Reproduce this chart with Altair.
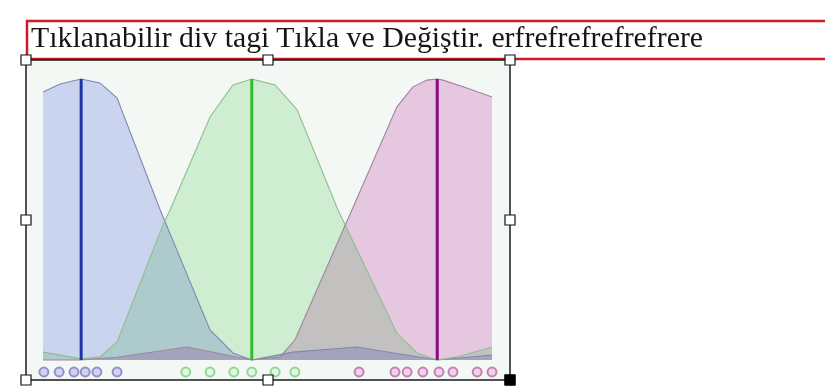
import altair as alt
import pandas as pd

# ---- data (x: feature value 0-100, y: relative density 0-1) ----
blue_x = [0, 3.8, 8.5, 12.7, 16.5, 26.1, 37.2, 42.3, 46.5, 55.7, 69.9, 87.8, 100]
blue_y = [0.954, 0.982, 1.0, 0.986, 0.932, 0.534, 0.107, 0.025, 0.0, 0.028, 0.046, 0.0, 0.018]

green_x = [0, 8.5, 12.7, 16.5, 26.7, 28.3, 37.2, 42.3, 46.5, 51.7, 56.6, 65.7, 78.8, 83.3, 87.8, 92.2, 100]
green_y = [0.028, 0.004, 0.011, 0.064, 0.48, 0.534, 0.865, 0.979, 1.0, 0.979, 0.89, 0.534, 0.096, 0.025, 0.0, 0.011, 0.046]

mag_x = [0, 8.5, 16.5, 32.1, 46.5, 52.8, 56.1, 68.8, 78.8, 82.4, 85.5, 87.8, 89.1, 94.4, 100]
mag_y = [0.0, 0.0, 0.01, 0.046, 0.0, 0.011, 0.071, 0.534, 0.9, 0.972, 0.996, 1.0, 0.996, 0.968, 0.936]

centers = {"A": 8.5, "B": 46.5, "C": 87.8}

blue_pts = [0.2, 3.6, 6.9, 9.4, 12.0, 16.5]
green_pts = [31.8, 37.2, 42.5, 46.5, 51.7, 56.1]
mag_pts = [70.4, 78.4, 81.1, 84.6, 88.2, 91.3, 96.7, 100]

title_text = "Tıklanabilir div tagi Tıkla ve Değiştir. erfrefrefrefrefrere"

# ---- styles ----
styles = {
    "A": dict(fill="#d4daf9", line="#8088b0", rule="#2233aa", pstroke="#8f8fcc", pfill="#d2d2f0"),
    "B": dict(fill="#d9f5db", line="#8fbd8f", rule="#2fbb2f", pstroke="#8fd88f", pfill="#e6f6e6"),
    "C": dict(fill="#f0ceeb", line="#a084a0", rule="#8c0a7c", pstroke="#c47fb4", pfill="#efd3e9"),
}
series = {"A": (blue_x, blue_y, blue_pts), "B": (green_x, green_y, green_pts), "C": (mag_x, mag_y, mag_pts)}

xs = alt.Scale(domain=[0, 100], range=[35, 484])
ys = alt.Scale(domain=[0, 1], range=[352, 71])

one = pd.DataFrame({"d": [0]})

layers = []

# red div box
layers.append(alt.Chart(one).mark_rect(fill="white", fillOpacity=0, stroke="#cc1a28", strokeWidth=2.5).encode(
    x=alt.value(19), x2=alt.value(840), y=alt.value(13), y2=alt.value(51)))
# text
layers.append(alt.Chart(one).mark_text(font="Liberation Serif", fontSize=29.8, align="left",
                                        baseline="alphabetic", color="#151515").encode(
    x=alt.value(23), y=alt.value(39), text=alt.value(title_text)))
# image background + selection border
layers.append(alt.Chart(one).mark_rect(fill="#f4f8f4", stroke="#1a1a1a", strokeWidth=1.5).encode(
    x=alt.value(18), x2=alt.value(502), y=alt.value(52), y2=alt.value(372)))

# areas (multiply blend)
for k, (sx, sy, _) in series.items():
    df = pd.DataFrame({"x": sx, "density": sy})
    layers.append(alt.Chart(df).mark_area(color=styles[k]["fill"], blend="multiply", opacity=1).encode(
        x=alt.X("x:Q", scale=xs, axis=None),
        y=alt.Y("density:Q", scale=ys, axis=None, stack=None)))
# outlines
for k, (sx, sy, _) in series.items():
    df = pd.DataFrame({"x": sx, "density": sy})
    layers.append(alt.Chart(df).mark_line(color=styles[k]["line"], strokeWidth=1.1).encode(
        x=alt.X("x:Q", scale=xs, axis=None),
        y=alt.Y("density:Q", scale=ys, axis=None)))
# center rules
for k, c in centers.items():
    df = pd.DataFrame({"x": [c], "lo": [0.0], "hi": [1.0]})
    layers.append(alt.Chart(df).mark_rule(color=styles[k]["rule"], strokeWidth=3).encode(
        x=alt.X("x:Q", scale=xs, axis=None),
        y=alt.Y("hi:Q", scale=ys, axis=None), y2="lo:Q"))
# sample points
for k, (_, _, pts) in series.items():
    df = pd.DataFrame({"x": pts})
    layers.append(alt.Chart(df).mark_circle(size=80, fill=styles[k]["pfill"], opacity=1,
                                            stroke=styles[k]["pstroke"], strokeWidth=2).encode(
        x=alt.X("x:Q", scale=xs, axis=None), y=alt.value(364)))

# selection handles
handles = [(18, 52), (260, 52), (502, 52), (18, 212), (502, 212), (18, 372), (260, 372)]
for hx, hy in handles:
    layers.append(alt.Chart(one).mark_square(size=100, fill="white", opacity=1, stroke="#111",
                                             strokeWidth=1.2).encode(x=alt.value(hx), y=alt.value(hy)))
layers.append(alt.Chart(one).mark_square(size=110, fill="black", opacity=1, stroke="#000",
                                         strokeWidth=1).encode(x=alt.value(502), y=alt.value(372)))

chart = alt.layer(*layers).properties(
    width=817, height=378, padding=0, autosize=alt.AutoSizeParams(type="none"), background="white"
).configure_view(stroke=None)

chart.save("out.html", embed_options={"renderer": "svg", "actions": False})
